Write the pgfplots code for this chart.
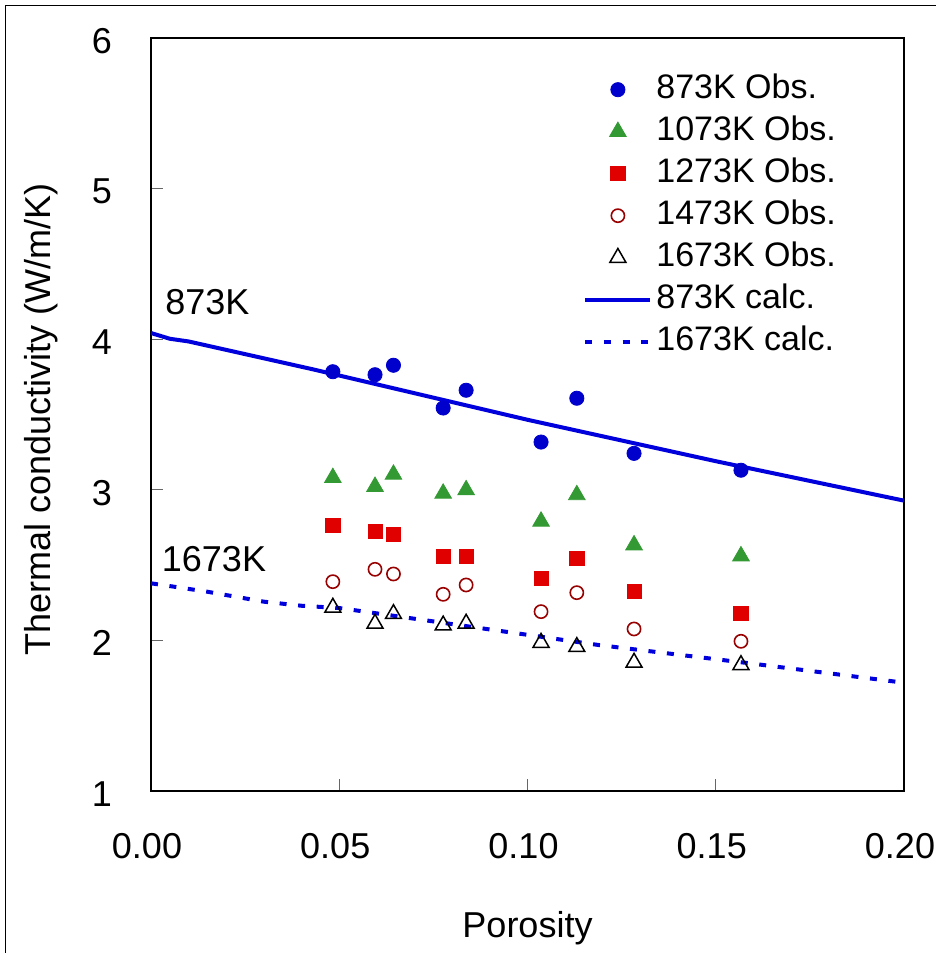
\documentclass[border=0pt]{standalone}
\usepackage{pgfplots}
\pgfplotsset{compat=1.18}
\usepackage{fontspec}
\setmainfont{Liberation Sans}
\definecolor{cblue}{RGB}{0,0,204}
\definecolor{lblue}{RGB}{0,0,220}
\definecolor{cgreen}{RGB}{51,153,51}
\definecolor{cred}{RGB}{224,0,0}
\definecolor{cdred}{RGB}{153,0,0}
\newcommand{\ff}{\fontsize{18}{21}\selectfont}
\newcommand{\lf}{\fontsize{17}{20}\selectfont}
\begin{document}
\begin{tikzpicture}
\path[use as bounding box] (-75.5pt,-81pt) rectangle (392.5pt,395.5pt);
\draw[line width=0.75pt] (-72.75pt,-81pt) -- (-72.75pt,392.75pt) -- (392.5pt,392.75pt);
\begin{axis}[at={(0,0)}, anchor=south west, scale only axis,
  width=376.5pt, height=376.5pt,
  xmin=0, xmax=0.2, ymin=1, ymax=6,
  xtick={0,0.05,0.1,0.15,0.2}, xticklabels={0.00,0.05,0.10,0.15,0.20},
  ytick={1,2,3,4,5,6},
  tick align=inside, xtick pos=bottom, ytick pos=left,
  major tick length=6pt,
  tick style={black!60, line width=0.6pt},
  axis line style={line width=0.75pt},
  font=\ff,
  tick label style={font=\ff},
  /pgf/number format/assume math mode=true,
  xticklabel style={yshift=-17.5pt, xshift=-2pt},
  yticklabel style={xshift=-16pt, yshift=-1.5pt},
  xlabel={Porosity},
  xlabel style={at={(axis description cs:0.5,-0.195)}, anchor=base},
  ylabel={Thermal conductivity (W/m/K)},
  ylabel style={at={(axis description cs:-0.134,0.494)}, anchor=base},
  legend image code/.code={\draw[mark repeat=2,mark phase=2,#1] plot coordinates {(0pt,0pt)(16.25pt,0pt)(32.5pt,0pt)};},
  legend cell align=left,
  legend style={at={(axis description cs:0.5737,0.9598)}, anchor=north west,
    draw=none, fill=none, inner sep=0pt, row sep=0pt, font=\lf,
    nodes={inner sep=2pt, text height=13pt, text depth=4pt}},
]
\addplot[only marks, mark=*, mark size=3.55pt, line width=0.4pt, draw=cblue, fill=cblue] coordinates {
(0.0483,3.784)(0.0595,3.764)(0.0644,3.827)(0.0776,3.543)(0.0837,3.661)(0.1036,3.317)(0.1131,3.608)(0.1283,3.242)(0.1567,3.130)};
\addlegendentry{873K Obs.}
\addplot[only marks, mark=triangle*, mark size=4.8pt, line width=0.4pt, draw=cgreen, fill=cgreen] coordinates {
(0.0483,3.080)(0.0595,3.021)(0.0644,3.102)(0.0776,2.976)(0.0837,2.999)(0.1036,2.790)(0.1131,2.966)(0.1283,2.633)(0.1567,2.560)};
\addlegendentry{1073K Obs.}
\addplot[only marks, mark=square*, mark size=3.55pt, line width=0.4pt, draw=cred, fill=cred] coordinates {
(0.0483,2.764)(0.0595,2.722)(0.0644,2.702)(0.0776,2.556)(0.0837,2.556)(0.1036,2.412)(0.1131,2.545)(0.1283,2.328)(0.1567,2.180)};
\addlegendentry{1273K Obs.}
\addplot[only marks, mark=o, mark size=3.3pt, line width=0.8pt, draw=cdred] coordinates {
(0.0483,2.390)(0.0595,2.472)(0.0644,2.441)(0.0776,2.306)(0.0837,2.368)(0.1036,2.191)(0.1131,2.317)(0.1283,2.076)(0.1567,1.994)};
\addlegendentry{1473K Obs.}
\addplot[only marks, mark=triangle, mark size=4.6pt, line width=0.75pt, draw=black] coordinates {
(0.0483,2.218)(0.0595,2.112)(0.0644,2.176)(0.0776,2.100)(0.0837,2.112)(0.1036,1.985)(0.1131,1.957)(0.1283,1.853)(0.1567,1.837)};
\addlegendentry{1673K Obs.}
\addplot[lblue, line width=2pt] coordinates {
(0,4.041)(0.005,4.003)(0.01,3.985)(0.043,3.80)(0.1,3.465)(0.15,3.19)(0.2,2.928)};
\addlegendentry{873K calc.}
\addplot[lblue, line width=2pt, dash pattern=on 3.5pt off 5.8pt] coordinates {
(0,2.379)(0.006,2.357)(0.015,2.323)(0.03,2.257)(0.04,2.23)(0.05,2.215)(0.1,2.037)(0.119,1.969)(0.159,1.848)(0.2,1.719)};
\addlegendentry{1673K calc.}
\node[anchor=base west, inner sep=0pt, font=\ff] at (axis cs:0.0037,4.161) {873K};
\node[anchor=base west, inner sep=0pt, font=\ff] at (axis cs:0.0028,2.456) {1673K};
\end{axis}
\end{tikzpicture}
\end{document}
